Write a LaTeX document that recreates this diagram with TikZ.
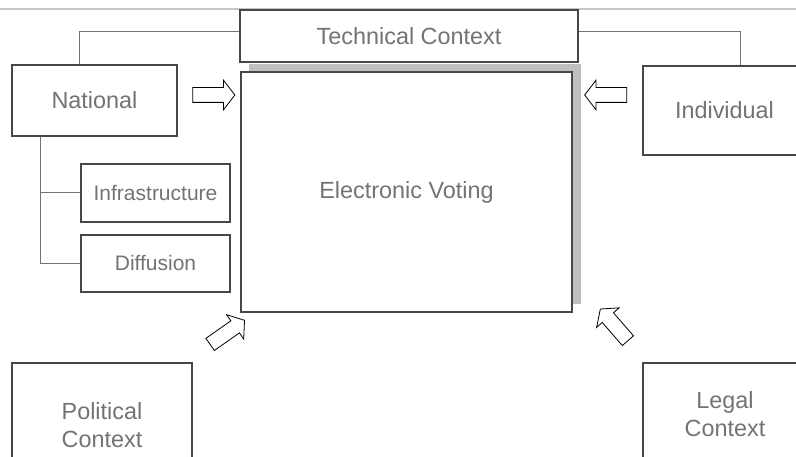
\documentclass[tikz,border=0pt]{standalone}
\usepackage{fontspec}
\setmainfont{Liberation Sans}
\usetikzlibrary{shapes.arrows}

\begin{document}
\begin{tikzpicture}[x=1pt,y=1pt]
\tikzstyle{box}=[rectangle,draw=black!72,line width=1.3pt,fill=white,text=black!55,font=\fontsize{23.4}{28}\selectfont,align=center,inner sep=0pt]
\tikzstyle{subbox}=[box,font=\fontsize{21}{25}\selectfont]
\tikzstyle{blockarrow}=[single arrow,draw=black,line width=0.8pt,fill=white,minimum height=42pt,inner xsep=0pt,inner ysep=7pt,single arrow head extend=7.5pt,single arrow tip angle=105]
\tikzstyle{link}=[draw=black!55,line width=1pt]
\useasboundingbox (0,0) rectangle (796,457);
\draw[black!22,line width=1.5pt] (0,448) -- (796,448);
\fill[black!25] (249,153) rectangle (581,393);
\node[box,minimum width=331pt,minimum height=240pt] (ev) at (406.5,265) {Electronic Voting};
\node[box,minimum width=338pt,minimum height=52pt] (tech) at (409,421) {Technical Context};
\node[box,minimum width=165pt,minimum height=71pt] (nat) at (94.5,356.5) {National};
\node[box,minimum width=163pt,minimum height=89pt] (ind) at (724.5,346.5) {Individual};
\node[subbox,minimum width=149pt,minimum height=58pt] (inf) at (155.5,264) {Infrastructure};
\node[subbox,minimum width=149pt,minimum height=57pt] (dif) at (155.5,193.5) {Diffusion};
\node[box,minimum width=180pt,minimum height=124pt] (pol) at (102,32) {Political\\Context};
\node[box,minimum width=164pt,minimum height=102pt] (leg) at (725,43) {Legal\\Context};
\draw[link] ([xshift=-15.5pt]nat.north) |- ([yshift=4pt]tech.west);
\draw[link] ([xshift=15.5pt]ind.north) |- ([yshift=4pt]tech.east);
\draw[link] ([xshift=-54.5pt]nat.south) |- (inf.west);
\draw[link] ([xshift=-54.5pt]nat.south) |- (dif.west);
\node[blockarrow] (arrN) at (211,362) {};
\node[blockarrow,shape border rotate=180] (arrI) at (608.5,362) {};
\node[blockarrow,rotate=35] (arrP) at (225,123) {};
\node[blockarrow,rotate=131] (arrL) at (616,130) {};
\end{tikzpicture}
\end{document}
